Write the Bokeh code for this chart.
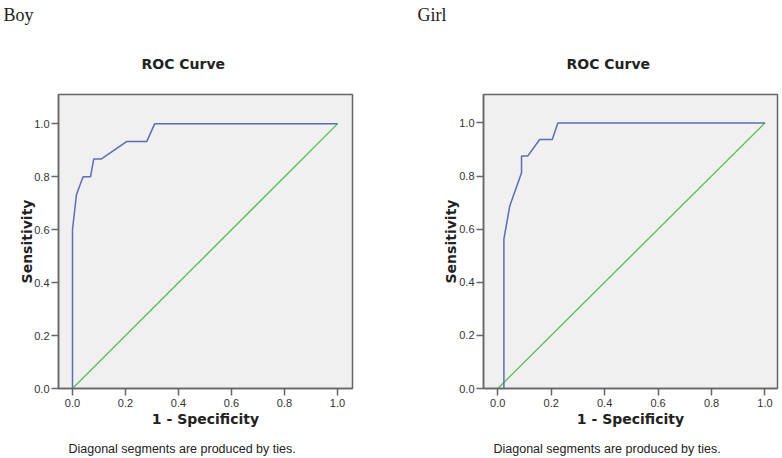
from bokeh.plotting import figure
from bokeh.layouts import row
from bokeh.models import Range1d, FixedTicker, NumeralTickFormatter, Title
from bokeh.embed import file_html
from bokeh.resources import INLINE

# ---- data ----
panel_names = ["Boy", "Girl"]
chart_title = "ROC Curve"
x_label = "1 - Specificity"
y_label = "Sensitivity"
footnote = "Diagonal segments are produced by ties."
tick_values = [0.0, 0.2, 0.4, 0.6, 0.8, 1.0]

boy_fpr = [0.0, 0.0, 0.015, 0.04, 0.068, 0.08, 0.108, 0.204, 0.28, 0.31, 1.0]
boy_tpr = [0.0, 0.6, 0.733, 0.8, 0.8, 0.867, 0.867, 0.933, 0.933, 1.0, 1.0]

girl_fpr = [0.023, 0.023, 0.045, 0.089, 0.089, 0.112, 0.157, 0.204, 0.225, 1.0]
girl_tpr = [0.0, 0.5625, 0.6875, 0.8125, 0.875, 0.875, 0.9375, 0.9375, 1.0, 1.0]

ref_x = [0.0, 1.0]
ref_y = [0.0, 1.0]

BLUE = "#5b6db3"
GREEN = "#55bb55"
FRAME = "#666666"
TXT = "#222222"

W = 391
H = 458


def panel(mb_left, mb_right, mb_top, xr, yr, fpr, tpr, name,
          name_offset, ylab_standoff):
    p = figure(width=W, height=H, output_backend="svg", toolbar_location=None,
               x_range=Range1d(*xr), y_range=Range1d(*yr),
               min_border_left=mb_left, min_border_right=mb_right,
               min_border_top=mb_top, min_border_bottom=70)
    p.background_fill_color = "#f0f0f0"
    p.border_fill_color = "white"
    p.outline_line_color = FRAME
    p.outline_line_width = 1.5
    p.grid.visible = False
    for ax in (p.xaxis, p.yaxis):
        ax.ticker = FixedTicker(ticks=tick_values)
        ax.formatter = NumeralTickFormatter(format="0.0")
        ax.major_tick_in = 0
        ax.major_tick_out = 7
        ax.minor_tick_line_color = None
        ax.axis_line_color = FRAME
        ax.axis_line_width = 1.5
        ax.major_tick_line_color = FRAME
        ax.major_tick_line_width = 1.5
        ax.major_label_text_font = "Liberation Sans"
        ax.major_label_text_font_size = "11px"
        ax.major_label_text_color = "#333333"
        ax.axis_label_text_font = "DejaVu Sans"
        ax.axis_label_text_font_size = "14px"
        ax.axis_label_text_font_style = "bold"
        ax.axis_label_text_color = TXT
    p.xaxis.major_label_standoff = 3
    p.yaxis.major_label_standoff = 2
    p.xaxis.axis_label = x_label
    p.yaxis.axis_label = y_label
    p.xaxis.axis_label_standoff = 1
    p.yaxis.axis_label_standoff = ylab_standoff

    p.line(ref_x, ref_y, line_color=GREEN, line_width=1.3)
    p.line(fpr, tpr, line_color=BLUE, line_width=1.5)

    p.add_layout(Title(text=chart_title, align="left", offset=83, standoff=46,
                       text_font="DejaVu Sans", text_font_size="14px",
                       text_font_style="bold", text_color=TXT), "above")
    p.add_layout(Title(text=name, align="left", offset=name_offset, standoff=8,
                       vertical_align="top",
                       text_font="Liberation Serif", text_font_size="18px",
                       text_font_style="normal", text_color=TXT), "above")
    # small spacer between the x axis and the footnote
    p.add_layout(Title(text=" ", standoff=4, text_font_size="2px"), "below")
    p.add_layout(Title(text=footnote, align="left", offset=10, standoff=5,
                       vertical_align="bottom",
                       text_font="Liberation Sans", text_font_size="12.5px",
                       text_font_style="normal", text_color=TXT), "below")
    return p


p1 = panel(58, 39, 94, (-0.0528, 1.0566), (0.0, 1.111),
           boy_fpr, boy_tpr, panel_names[0], -55, -4)
p2 = panel(92, 5, 93, (-0.0533, 1.0469), (0.0, 1.107),
           girl_fpr, girl_tpr, panel_names[1], -66, -3)

layout = row(p1, p2)
open("out.html", "w").write(file_html(layout, INLINE))
